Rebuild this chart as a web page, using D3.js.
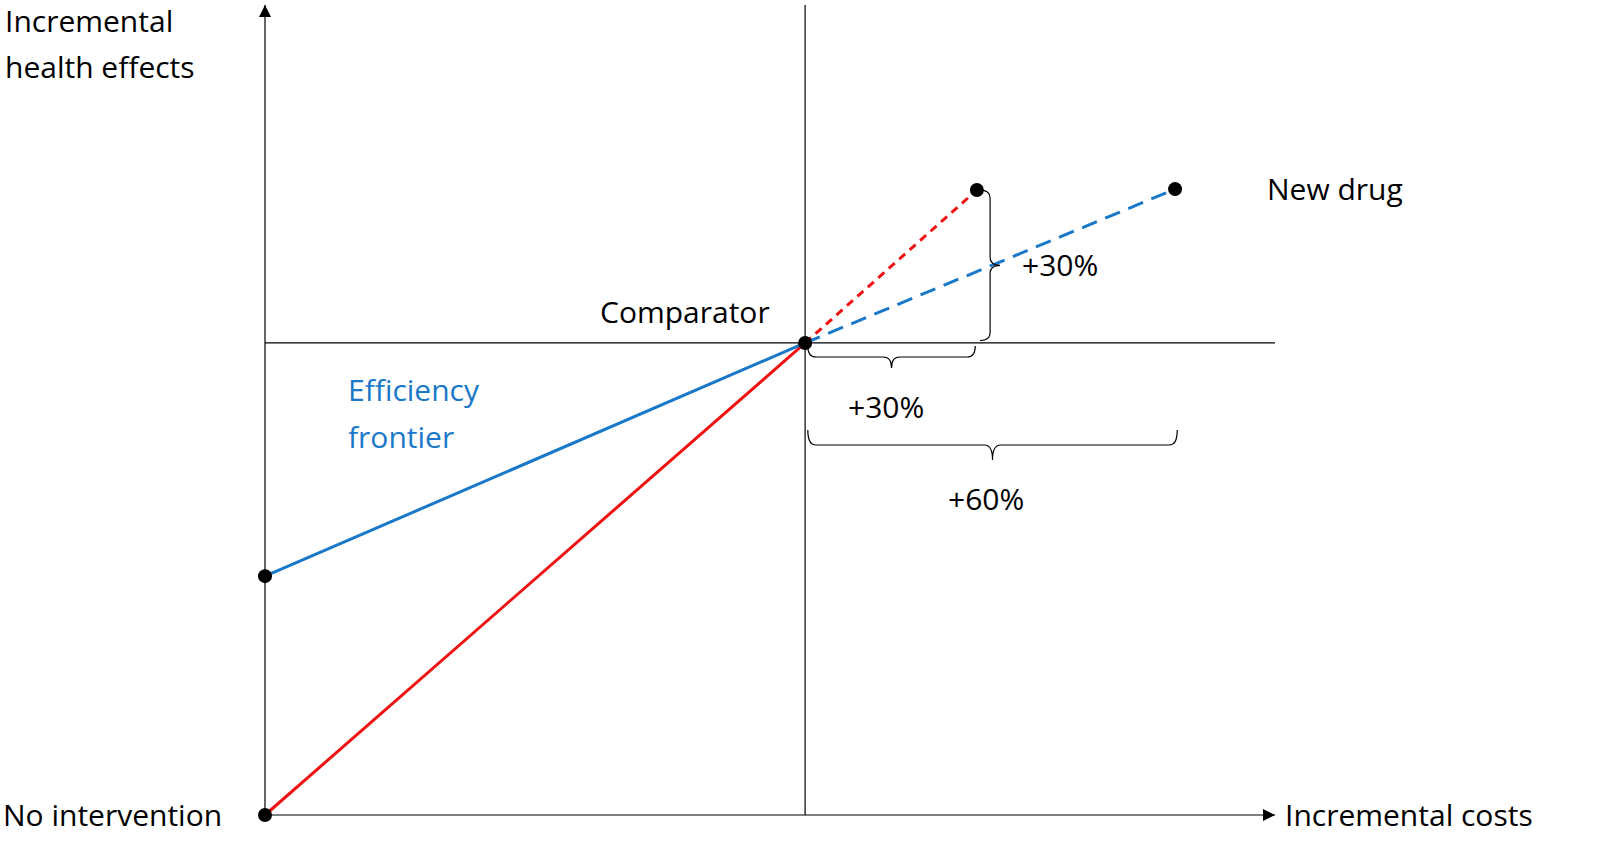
<!DOCTYPE html><html><head><meta charset="utf-8">
<script src="https://cdn.jsdelivr.net/npm/d3@7"></script>
<style>body{margin:0;background:#fff}text{font-family:"Open Sans",sans-serif;font-size:30px}</style></head><body>
<svg id="c" width="1618" height="857"></svg>
<script>
const points=[{name:"No intervention",x:0,y:0},{name:"Alt",x:0,y:50.6},{name:"Comparator",x:100,y:100},{name:"Red end",x:131.8,y:132.4},{name:"New drug",x:168.5,y:132.6}];
const solidBlue=[[0,50.6],[100,100]], solidRed=[[0,0],[100,100]];
const dashRed=[[100,100],[131.8,132.4]], dashBlue=[[100,100],[168.5,132.6]];
const labels=["+30%","+30%","+60%"];
const svg=d3.select("#c");
const x=d3.scaleLinear().domain([0,187]).range([265,1275]);
const y=d3.scaleLinear().domain([0,171.6]).range([815,5]);
svg.append("defs").append("marker").attr("id","ar").attr("viewBox","0 0 10 10").attr("refX",10).attr("refY",5)
 .attr("markerWidth",12).attr("markerHeight",12).attr("markerUnits","userSpaceOnUse").attr("orient","auto")
 .append("path").attr("d","M0,0L10,5L0,10z").attr("fill","#000");
const ln=(x1,y1,x2,y2,m)=>{const l=svg.append("line").attr("x1",x1).attr("y1",y1).attr("x2",x2).attr("y2",y2).attr("stroke","#000").attr("stroke-width",1.2);if(m)l.attr("marker-end","url(#ar)");return l;};
ln(x(0),y(0),x(0),y(171.6),true);
ln(x(0),y(0),x(187),y(0),true);
ln(x(100),y(0),x(100),y(171.6));
ln(x(0),y(100),x(187),y(100));
const line=d3.line().x(d=>x(d[0])).y(d=>y(d[1]));
svg.append("path").attr("d",line(solidRed)).attr("stroke","#ee1111").attr("stroke-width",3).attr("fill","none");
svg.append("path").attr("d",line(solidBlue)).attr("stroke","#1a78c8").attr("stroke-width",3).attr("fill","none");
svg.append("path").attr("d",line(dashRed)).attr("stroke","#ee1111").attr("stroke-width",3).attr("stroke-dasharray","8,6").attr("fill","none");
svg.append("path").attr("d",line(dashBlue)).attr("stroke","#1a78c8").attr("stroke-width",3).attr("stroke-dasharray","16,9").attr("fill","none");
svg.selectAll("circle.p").data(points).join("circle").attr("cx",d=>x(d.x)).attr("cy",d=>y(d.y)).attr("r",7).attr("fill","#000");
function hbrace(x1,x2,yy,h){const m=(x1+x2)/2;svg.append("path").attr("fill","none").attr("stroke","#000").attr("stroke-width",1.2)
 .attr("d",`M${x1},${yy}Q${x1},${yy+h/2} ${x1+8},${yy+h/2}L${m-8},${yy+h/2}Q${m},${yy+h/2} ${m},${yy+h}Q${m},${yy+h/2} ${m+8},${yy+h/2}L${x2-8},${yy+h/2}Q${x2},${yy+h/2} ${x2},${yy}`);}
function vbrace(y1,y2,xx,w){const m=(y1+y2)/2;svg.append("path").attr("fill","none").attr("stroke","#000").attr("stroke-width",1.2)
 .attr("d",`M${xx},${y1}Q${xx+w/2},${y1} ${xx+w/2},${y1+8}L${xx+w/2},${m-8}Q${xx+w/2},${m} ${xx+w},${m}Q${xx+w/2},${m} ${xx+w/2},${m+8}L${xx+w/2},${y2-8}Q${xx+w/2},${y2} ${xx},${y2}`);}
hbrace(x(100.5),x(131.5),346,22);
hbrace(x(100.5),x(168.9),430,30);
vbrace(y(132.4),y(100.5),x(132.4),20);
const T=(t,xx,yy,c,a)=>svg.append("text").attr("x",xx).attr("y",yy).attr("fill",c||"#000").attr("text-anchor",a||"start").text(t);
T("Incremental",5,32);T("health effects",5,78);
T("No intervention",3,826);T("Incremental costs",1285,826);
T("Comparator",600,323);T("New drug",1267,200);
T("Efficiency",348,401,"#1a78c8");T("frontier",348,448,"#1a78c8");
T(labels[0],1022,276);T(labels[1],848,418);T(labels[2],948,510);
</script></body></html>
